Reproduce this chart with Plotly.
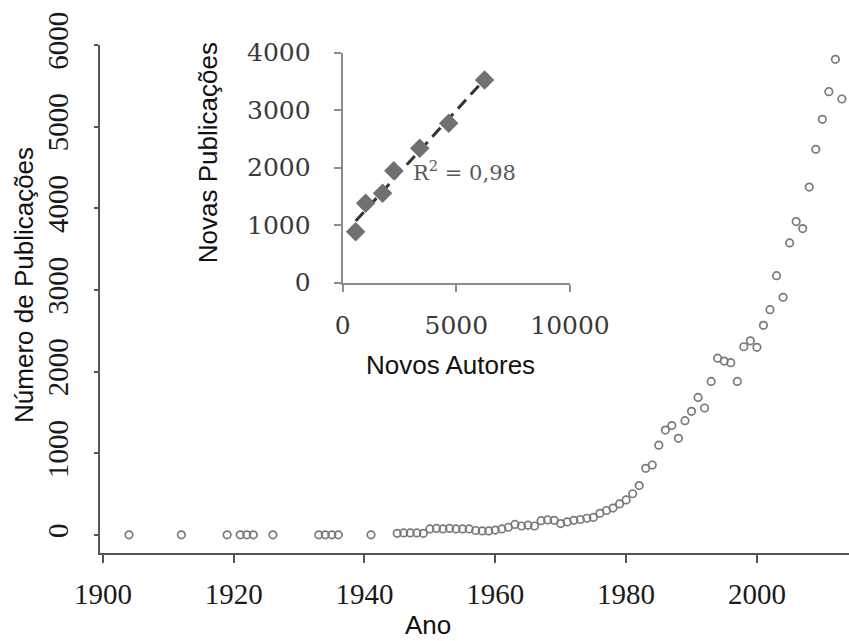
import numpy as np
import plotly.graph_objects as go

# Publications per year (main panel)
years = [1904, 1912, 1919, 1921, 1922, 1923, 1926, 1933, 1934, 1935, 1936, 1941,
         1945, 1946, 1947, 1948, 1949, 1950, 1951, 1952, 1953, 1954, 1955, 1956,
         1957, 1958, 1959, 1960, 1961, 1962, 1963, 1964, 1965, 1966, 1967, 1968,
         1969, 1970, 1971, 1972, 1973, 1974, 1975, 1976, 1977, 1978, 1979, 1980,
         1981, 1982, 1983, 1984, 1985, 1986, 1987, 1988, 1989, 1990, 1991, 1992,
         1993, 1994, 1995, 1996, 1997, 1998, 1999, 2000, 2001, 2002, 2003, 2004,
         2005, 2006, 2007, 2008, 2009, 2010, 2011, 2012, 2013]
publications = [2, 2, 2, 2, 2, 2, 2, 2, 2, 2, 2, 2,
                20, 25, 25, 25, 20, 75, 80, 75, 80, 75, 75, 75,
                55, 50, 50, 60, 75, 95, 130, 110, 120, 110, 175, 185,
                180, 140, 160, 180, 190, 205, 215, 265, 300, 330, 380, 430,
                505, 605, 816, 857, 1100, 1285, 1340, 1184, 1400, 1515, 1685, 1555,
                1880, 2165, 2130, 2110, 1880, 2305, 2378, 2298, 2567, 2759, 3175, 2910,
                3577, 3838, 3752, 4260, 4722, 5090, 5428, 5825, 5339]

year_ticks = [1900, 1920, 1940, 1960, 1980, 2000]
pub_ticks = [0, 1000, 2000, 3000, 4000, 5000, 6000]

# New authors vs new publications (inset)
new_authors = [570, 1009, 1754, 2250, 3390, 4663, 6241]
new_pubs = [887, 1381, 1555, 1948, 2337, 2772, 3525]
inset_x_ticks = [0, 5000, 10000]
inset_x_labels = ["0", "5000", "10000"]
inset_y_ticks = [0, 1000, 2000, 3000, 4000]

# Linear least-squares trend for the inset
slope, intercept = np.polyfit(new_authors, new_pubs, 1)
fit_x = np.array([min(new_authors), max(new_authors)])
fit_y = slope * fit_x + intercept
pred = slope * np.array(new_authors) + intercept
ss_res = np.sum((np.array(new_pubs) - pred) ** 2)
ss_tot = np.sum((np.array(new_pubs) - np.mean(new_pubs)) ** 2)
r2 = 1 - ss_res / ss_tot
r2_label = f"R<sup>2</sup> = {r2:.2f}".replace(".", ",")

fig = go.Figure()

fig.add_trace(go.Scatter(
    x=years, y=publications, mode="markers",
    marker=dict(symbol="circle-open", size=7.5, color="#7a7a7a",
                line=dict(width=1.7, color="#7a7a7a")),
    xaxis="x", yaxis="y", showlegend=False,
))

fig.add_trace(go.Scatter(
    x=fit_x, y=fit_y, mode="lines",
    line=dict(color="#333333", width=3, dash="12px,7px"),
    xaxis="x2", yaxis="y2", showlegend=False,
))
fig.add_trace(go.Scatter(
    x=new_authors, y=new_pubs, mode="markers",
    marker=dict(symbol="diamond", size=15, color="#707070"),
    xaxis="x2", yaxis="y2", showlegend=False,
))

serif_main = dict(family="Liberation Serif", size=29, color="#1a1a1a")
serif_inset = dict(family="DejaVu Serif", size=25, color="#3a3a3a")
sans = dict(family="Liberation Sans", size=26, color="#111111")

fig.update_layout(
    width=849, height=641,
    margin=dict(l=100, r=0, t=45, b=88, autoexpand=False),
    paper_bgcolor="white", plot_bgcolor="white",
    xaxis=dict(
        range=[1899.56, 2014.08], tickvals=year_ticks,
        ticks="outside", ticklen=8, tickwidth=1.5, tickcolor="#555555",
        showline=True, linecolor="#555555", linewidth=1.5,
        showgrid=False, zeroline=False, tickfont=serif_main,
        ticklabelstandoff=6,
    ),
    yaxis=dict(
        range=[-220.4, 6000], tickvals=pub_ticks, tickangle=-90,
        ticks="outside", ticklen=4, tickwidth=1.5, tickcolor="#555555",
        showline=True, linecolor="#555555", linewidth=1.5,
        showgrid=False, zeroline=False, tickfont=serif_main,
        ticklabelstandoff=15,
    ),
    xaxis2=dict(
        domain=[0.324, 0.6275], anchor="y2", range=[0, 10000],
        tickvals=inset_x_ticks, ticktext=inset_x_labels,
        ticks="outside", ticklen=7, tickwidth=2,
        tickcolor="#8c8c8c", showline=True, linecolor="#8c8c8c", linewidth=2,
        showgrid=False, zeroline=False, tickfont=serif_inset,
        ticklabelstandoff=12,
    ),
    yaxis2=dict(
        domain=[0.532, 0.985], anchor="x2", range=[0, 4000],
        tickvals=inset_y_ticks, ticks="outside", ticklen=7, tickwidth=2,
        tickcolor="#8c8c8c", showline=True, linecolor="#8c8c8c", linewidth=2,
        showgrid=False, zeroline=False, tickfont=serif_inset,
        ticklabelstandoff=18,
    ),
    annotations=[
        dict(text="Ano", xref="paper", yref="paper", x=0.438, y=-0.1752,
             showarrow=False, font=sans, xanchor="center", yanchor="bottom"),
        dict(text="Número de Publicações", xref="paper", yref="paper",
             x=-0.1015, y=0.5276, textangle=-90, showarrow=False, font=sans,
             xanchor="center", yanchor="middle"),
        dict(text="Novas Publicações", xref="paper", yref="paper",
             x=0.1442, y=0.787, textangle=-90, showarrow=False, font=sans,
             xanchor="center", yanchor="middle"),
        dict(text="Novos Autores", xref="paper", yref="paper",
             x=0.4686, y=0.370, showarrow=False, font=sans,
             xanchor="center", yanchor="middle"),
        dict(text=r2_label, xref="x2", yref="y2", x=5364, y=1943,
             showarrow=False,
             font=dict(family="DejaVu Serif", size=21, color="#595959"),
             xanchor="center", yanchor="middle"),
    ],
)

fig.write_html("out.html")
